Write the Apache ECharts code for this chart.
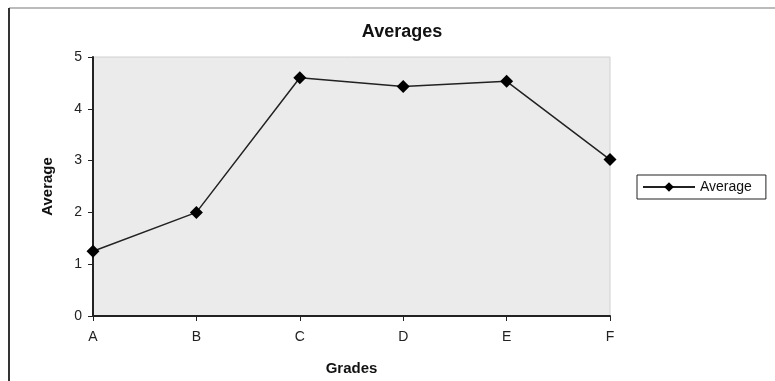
<!DOCTYPE html>
<html><head><meta charset="utf-8">
<script src="https://cdn.jsdelivr.net/npm/echarts@6/dist/echarts.min.js"></script>
<style>html,body{margin:0;padding:0;background:#fff}#c{width:775px;height:381px}</style>
</head><body><div id="c"></div>
<script>
const categories = ['A','B','C','D','E','F'];
const averages = [1.25, 2.0, 4.6, 4.43, 4.53, 3.02];
const yTicks = [0,1,2,3,4,5];

const chart = echarts.init(document.getElementById('c'));
const font = 'Liberation Sans, Arial, sans-serif';
chart.setOption({
  animation: false,
  backgroundColor: '#fff',
  title: {text: 'Averages', left: 397, top: 18, textAlign: 'center',
    textStyle: {fontFamily: font, fontSize: 18, fontWeight: 'bold', color: '#111'}},
  grid: {left: 93, right: 165, top: 57, bottom: 62, show: true,
    backgroundColor: '#ebebeb', borderColor: '#d0d0d0', borderWidth: 1},
  legend: {data: ['Average'], left: 637, top: 175, orient: 'vertical',
    itemWidth: 52, itemHeight: 12, itemGap: 4, padding: [5, 14, 5, 5],
    borderColor: '#222', borderWidth: 1, backgroundColor: '#fff',
    textStyle: {fontFamily: font, fontSize: 14, color: '#111'}},
  xAxis: {type: 'category', data: categories, boundaryGap: false,
    name: 'Grades', nameLocation: 'middle', nameGap: 45,
    nameTextStyle: {fontFamily: font, fontSize: 15, fontWeight: 'bold', color: '#111'},
    axisLine: {lineStyle: {color: '#222', width: 2}},
    axisTick: {show: true, length: 5, lineStyle: {color: '#222'}},
    axisLabel: {fontFamily: font, fontSize: 14, color: '#222', margin: 14},
    splitLine: {show: false}},
  yAxis: {type: 'value', min: 0, max: 5, interval: 1,
    name: 'Average', nameLocation: 'middle', nameGap: 38, nameRotate: 90,
    nameTextStyle: {fontFamily: font, fontSize: 15, fontWeight: 'bold', color: '#111'},
    axisLine: {show: true, lineStyle: {color: '#222', width: 2}},
    axisTick: {show: true, length: 5, lineStyle: {color: '#222'}},
    axisLabel: {fontFamily: font, fontSize: 14, color: '#222', margin: 11,
      formatter: v => yTicks.includes(v) ? String(v) : ''},
    splitLine: {show: false}},
  series: [{name: 'Average', type: 'line', data: averages,
    symbol: 'diamond', symbolSize: 13,
    lineStyle: {color: '#222', width: 1.5},
    itemStyle: {color: '#000'}}],
  graphic: [
    {type: 'line', shape: {x1: 9, y1: 8, x2: 775, y2: 8}, style: {stroke: '#bbb', lineWidth: 2}},
    {type: 'line', shape: {x1: 9, y1: 8, x2: 9, y2: 381}, style: {stroke: '#333', lineWidth: 2}}
  ]
});
</script></body></html>
